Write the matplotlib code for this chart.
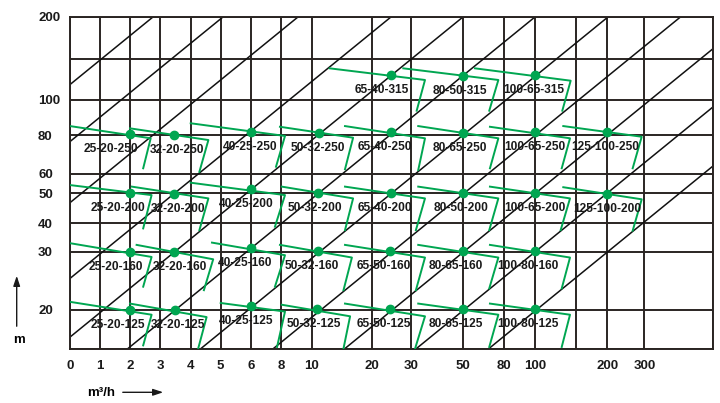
import numpy as np
import matplotlib
matplotlib.use("Agg")
import matplotlib.pyplot as plt
from matplotlib import font_manager

# grid values of the chart and where the drawing puts them (it is not a true log scale)
x_grid = [0, 1, 2, 3, 4, 5, 6, 8, 10, 20, 30, 50, 80, 100, 150, 200, 300, 500]
x_grid_pos = [0, 30, 60, 90, 120.7, 150.7, 180.7, 211, 241.7, 301.7, 340.7,
              392.7, 434, 465, 506, 537.3, 574.3, 643.3]
x_labels = ["0", "1", "2", "3", "4", "5", "6", "8", "10", "20", "30", "50",
            "80", "100", "", "200", "300", ""]
y_grid = [15, 20, 30, 40, 50, 60, 80, 100, 150, 200]
y_grid_pos = [0, 39.3, 97.6, 126, 156, 175.6, 214.3, 249.3, 290, 332.6]
y_labels = ["", "20", "30", "40", "50", "60", "80", "100", "", "200"]

# diagonal guide lines: start on the bottom edge (scaled units) and slope
diag_x0 = [-325, -255, -180, -87, -15, 57, 130, 202.5, 274, 345.5, 418]
diag_slope = 0.8146

# pump models: rated point and the drawn range outline (start -> end -> low end)
models = ["65-40-315", "80-50-315", "100-65-315",
          "25-20-250", "32-20-250", "40-25-250", "50-32-250", "65-40-250",
          "80-65-250", "100-65-250", "125-100-250",
          "25-20-200", "32-20-200", "40-25-200", "50-32-200", "65-40-200",
          "80-50-200", "100-65-200", "125-100-200",
          "25-20-160", "32-20-160", "40-25-160", "50-32-160", "65-50-160",
          "80-65-160", "100-80-160",
          "25-20-125", "32-20-125", "40-25-125", "50-32-125", "65-50-125",
          "80-65-125", "100-80-125"]
q_rated = [25, 50, 100,
           2, 3.46, 6, 11.2, 24.9, 50, 100, 200,
           2, 3.46, 6, 11.1, 24.9, 50, 100, 200,
           2, 3.46, 6, 11.1, 24.7, 50, 100,
           2, 3.49, 6, 10.9, 24.7, 50, 100]
h_rated = [130.7, 129.5, 130.7,
           80.4, 80.2, 81.9, 81.3, 81.9, 81.3, 81.9, 81.9,
           50, 49.8, 52, 50, 50.3, 50, 50, 49.8,
           30, 29.9, 31.2, 30.2, 30.2, 30.2, 30.2,
           20, 20, 20.7, 20.1, 20.1, 20.1, 20.1]
q_start = [13.0, 28.1, 58.9,
           0, 2, 4, 7.93, 15.55, 32.9, 69.8, 134.5,
           0, 2.06, 4, 8.05, 15.55, 32.9, 69.8, 134.5,
           0, 2.22, 4.71, 7.93, 15.55, 32.9, 69.8,
           0, 2, 5, 8.05, 15.55, 32.9, 69.8]
h_start = [138.9, 138.9, 138.9,
           85.1, 83.8, 86.7, 84.7, 85.1, 85.1, 84.7, 85.1,
           54.2, 53.4, 55.4, 53.4, 53.4, 53.4, 53.4, 53.1,
           33, 32.4, 33.2, 32.4, 32.4, 32.4, 32.4,
           21.4, 21.1, 21.2, 20.9, 21.1, 21.1, 21.1]
q_end = [35.5, 75.9, 143.5,
         2.69, 4.59, 8.26, 16.9, 35.5, 75.9, 142.7, 293,
         2.72, 4.59, 8.26, 16.9, 35.5, 75.9, 142.7, 293,
         2.72, 4.75, 8.26, 16.7, 35.5, 75.9, 142.7,
         2.72, 4.53, 8.26, 16.4, 35.5, 75.9, 142.7]
h_end = [124.6, 124.6, 123.7,
         78.3, 77.4, 79.5, 78.6, 78.3, 78.3, 78.3, 79.1,
         49.4, 48.3, 49.4, 48.3, 48.3, 48.3, 48.3, 48,
         29.1, 28.7, 29.4, 29, 29, 29, 29,
         19.4, 19.1, 19.8, 19.2, 19.2, 19.4, 19.4]
q_low = [32.3, 69.3, 133.3,
         2.44, 4.29, 7.67, 15.55, 32.9, 69.8, 132.6, 268.6,
         2.44, 4.29, 7.6, 15.55, 32, 69.3, 131.3, 268.6,
         2.44, 4.44, 7.6, 15.3, 32, 69.3, 132.6,
         2.44, 4.25, 7.74, 15.3, 31.7, 69.3, 132.6]
h_low = [93.9, 93.9, 93.9,
         62.8, 61, 63.6, 62.3, 61.9, 62.8, 62.8, 62.8,
         38.2, 37.6, 38.8, 37.6, 37.6, 37.6, 37.6, 37.4,
         24, 23.4, 24, 23.4, 23.4, 23.7, 23.7,
         15.5, 15.1, 15.3, 15.1, 15.1, 15.3, 15.3]

# label shift from the rated point, in pixels
label_dx = [-9, -3, -1,
            -19, 3, -1, -1, -6, -3, 0, -2,
            -12, 3.5, -4, -3, -6, -2, 0, 0,
            -14, 6, -6, -6, -6, -7, -7,
            -12.5, 3, -4.5, -3, -6, -7, -7]

grid_col = "#2a2522"
green = "#00a651"
px = 0.72  # points per pixel at dpi 100

# narrow face for the model labels if there is one, else a smaller regular face
names = {f.name for f in font_manager.fontManager.ttflist}
if "Liberation Sans Narrow" in names:
    label_family, label_size = ["Liberation Sans Narrow", "DejaVu Sans"], 10
else:
    label_family, label_size = ["Liberation Sans", "DejaVu Sans"], 8.6
tick_family = ["Liberation Sans", "DejaVu Sans"]


def fwd_x(v):
    return np.interp(v, x_grid, x_grid_pos)


def inv_x(p):
    return np.interp(p, x_grid_pos, x_grid)


def fwd_y(v):
    return np.interp(v, y_grid, y_grid_pos)


def inv_y(p):
    return np.interp(p, y_grid_pos, y_grid)


fig = plt.figure(figsize=(7.2, 4.03), dpi=100)
ax = fig.add_axes([70 / 720, 1 - 349.3 / 403, 643.3 / 720, 332.6 / 403])
ax.set_xscale("function", functions=(fwd_x, inv_x))
ax.set_yscale("function", functions=(fwd_y, inv_y))

# diagonal guide lines, drawn in the scaled coordinates
scaled = ax.transLimits + ax.transAxes
for x0 in diag_x0:
    xs = np.array([x0, x0 + 800])
    ax.plot(xs, diag_slope * (xs - x0), color="#111111", lw=1.1,
            transform=scaled, zorder=2)

# pump ranges
for i, name in enumerate(models):
    ax.plot([q_start[i], q_end[i], q_low[i]], [h_start[i], h_end[i], h_low[i]],
            color=green, lw=1.4, zorder=3)
    ax.plot(q_rated[i], h_rated[i], "o", color=green, ms=6, zorder=4)
    ax.annotate(name, (q_rated[i], h_rated[i]),
                xytext=(label_dx[i] * px, -18 * px), textcoords="offset points",
                ha="center", va="baseline", fontsize=label_size, fontweight="bold",
                family=label_family, color="#1a1a1a", zorder=5)

ax.set_xlim(0, 500)
ax.set_ylim(15, 200)
ax.set_xticks(x_grid)
ax.set_xticklabels(x_labels)
ax.set_yticks(y_grid)
ax.set_yticklabels(y_labels)
ax.minorticks_off()
ax.grid(True, color=grid_col, lw=1.4, zorder=1)
for s in ax.spines.values():
    s.set_color(grid_col)
    s.set_linewidth(1.4)
ax.tick_params(axis="both", length=0, labelsize=9.5, colors="#1a1a1a")
ax.tick_params(axis="x", pad=7.5)
ax.tick_params(axis="y", pad=23)
for lab in ax.get_yticklabels():
    lab.set_horizontalalignment("left")
for lab in ax.get_xticklabels() + ax.get_yticklabels():
    lab.set_family(tick_family)
    lab.set_fontweight("bold")

# axis captions with arrows
fig.text(18.7 / 720, 1 - 340 / 403, "m", ha="center", va="center", fontsize=9.5,
         fontweight="bold", family=tick_family)
fig.text(100.8 / 720, 1 - 392.5 / 403, "m³/h", ha="center", va="center",
         fontsize=9.5, fontweight="bold", family=tick_family)
arrow = dict(arrowstyle="-|>,head_length=0.6,head_width=0.2", color="#1a1a1a", lw=1.0)
ax.annotate("", xy=(16.7 / 720, 1 - 273 / 403), xytext=(16.7 / 720, 1 - 329 / 403),
            xycoords="figure fraction", arrowprops=arrow)
ax.annotate("", xy=(166 / 720, 1 - 392.3 / 403), xytext=(120 / 720, 1 - 392.3 / 403),
            xycoords="figure fraction", arrowprops=arrow)

fig.savefig("out.png", dpi=100)
